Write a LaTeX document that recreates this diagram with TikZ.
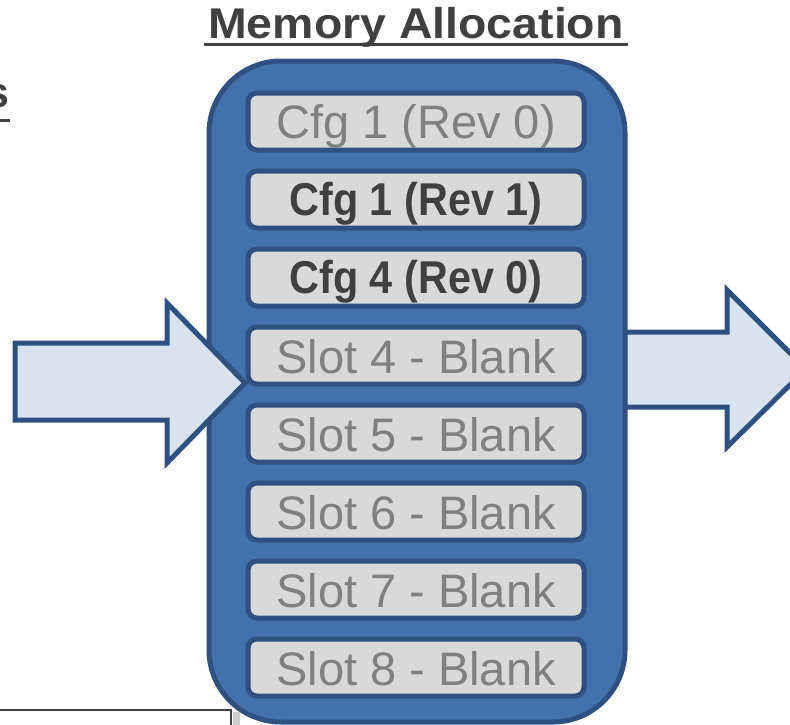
\documentclass[tikz,border=0pt]{standalone}
\usepackage{fontspec}
\setmainfont{Liberation Sans}
\definecolor{bigfill}{HTML}{4371AB}
\definecolor{bigline}{HTML}{2E5181}
\definecolor{slotfill}{HTML}{D9D9D9}
\definecolor{arrfill}{HTML}{D9E2EF}
\definecolor{darktxt}{HTML}{404040}
\definecolor{graytxt}{HTML}{808080}
\tikzset{
  slotbox/.style={draw=bigline, line width=5pt, fill=slotfill, rounded corners=9pt},
  arrowshape/.style={draw=bigline, line width=5pt, fill=arrfill, line join=miter},
  blanktxt/.style={anchor=base, text=graytxt, font=\fontsize{47}{50}\selectfont, inner sep=0pt},
  boldtxt/.style={anchor=base, text=darktxt, font=\bfseries\fontsize{46}{50}\selectfont, inner sep=0pt},
}
\begin{document}
\begin{tikzpicture}[x=1pt,y=-1pt]
\useasboundingbox (0,0) rectangle (790,724);
\clip (0,0) rectangle (790,724);
% bottom-left box (cut off)
\fill[gray!40] (233,712) rectangle (240,730);
\draw[darktxt, line width=2.5pt, fill=white] (-5,710) rectangle (231,740);
% right arrow (behind)
\draw[arrowshape] (600,332) -- (727,332) -- (727,290) -- (806,369) -- (727,447) -- (727,407) -- (600,407) -- cycle;
% big container
\draw[draw=bigline, line width=5pt, fill=bigfill, rounded corners=72pt] (209,61) rectangle (625,722);
\node[coordinate] (big) at (417,391) {};
% left arrow
\draw[arrowshape] (15,343) -- (167,343) -- (167,303) -- (245,383) -- (167,463) -- (167,420) -- (15,420) -- cycle;
% slots
\foreach \i in {0,...,7}{
  \draw[slotbox] (248,{93+78*\i}) rectangle (584,{150+78*\i});
}
\node[blanktxt] (s1) at (416,138.5) {Cfg 1 (Rev 0)};
\node[boldtxt] (s2) at (416,215.5) {\scalebox{0.9}[1]{Cfg 1 (Rev 1)}};
\node[boldtxt] (s3) at (416,293.5) {\scalebox{0.9}[1]{Cfg 4 (Rev 0)}};
\node[blanktxt] (s4) at (416,373) {Slot 4 - Blank};
\node[blanktxt] (s5) at (416,451) {Slot 5 - Blank};
\node[blanktxt] (s6) at (416,529) {Slot 6 - Blank};
\node[blanktxt] (s7) at (416,607) {Slot 7 - Blank};
\node[blanktxt] (s8) at (416,685) {Slot 8 - Blank};
% title
\node[anchor=base, text=darktxt, inner sep=0pt, font=\bfseries\fontsize{43}{46}\selectfont] (title) at (416,38) {\scalebox{1.08}[1]{Memory Allocation}};
\draw[darktxt, line width=3pt] (204,44.5) -- (628,44.5);
% cut-off heading on the left
\node[anchor=base east, text=darktxt, inner sep=0pt, font=\bfseries\fontsize{43}{46}\selectfont] (lefthead) at (10,107) {s};
\draw[darktxt, line width=3pt] (0,120) -- (10,120);
\end{tikzpicture}
\end{document}
